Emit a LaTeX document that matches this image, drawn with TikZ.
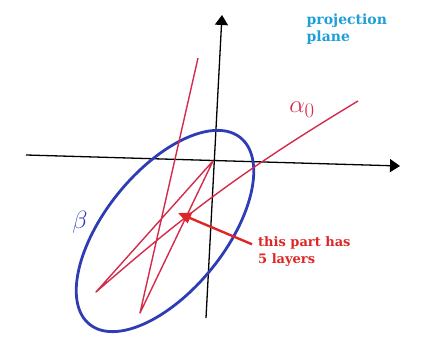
\documentclass[tikz,border=0pt]{standalone}
\usepackage{fontspec}
\usetikzlibrary{arrows.meta}
\newfontfamily\notefont{DejaVu Serif}
\definecolor{skyc}{HTML}{1E9FD8}
\definecolor{redc}{HTML}{DE2626}
\definecolor{linec}{HTML}{D42B4B}
\definecolor{ringc}{HTML}{2F3DB4}

\begin{document}
\begin{tikzpicture}[x=1pt,y=1pt,>={Triangle[length=10pt,width=13pt]},
  axis/.style={line width=1.3pt,->},
  strand/.style={linec,line width=1.4pt,line join=round},
  note/.style={align=left,inner sep=0pt,anchor=north west}]
  \useasboundingbox (0,0) rectangle (422,347);
  % axes
  \coordinate (xl) at (26,192); \coordinate (xr) at (400,181);
  \coordinate (yb) at (206,29);  \coordinate (yt) at (222,332);
  \draw[axis] (xl) -- (xr);
  \draw[axis] (yb) -- (yt);
  % the region beta
  \draw[ringc,line width=2.8pt,rotate around={51:(165,116)}] (165,116) ellipse [x radius=120pt,y radius=60pt];
  \node[text=ringc,font=\fontsize{31}{31}\selectfont] (beta) at (80,125) {$\beta$};
  % the curve alpha_0, folded
  \coordinate (a0) at (358,246); \coordinate (a1) at (96,55);
  \coordinate (a2) at (213,186); \coordinate (a3) at (140,34);
  \coordinate (a4) at (198,289);
  \draw[strand] (a0) to[bend right=5] (a1) -- (a2) -- (a3) -- (a4);
  \node[text=linec,font=\fontsize{31}{31}\selectfont] (alpha) at (302,237) {$\alpha_0$};
  % labels
  \node[note,text=skyc,font=\notefont\bfseries\fontsize{14}{16.7}\selectfont] (plane) at (306.5,333) {projection\\plane};
  \node[note,text=redc,font=\notefont\bfseries\fontsize{13}{17.4}\selectfont] (layers) at (258,111) {this part has\\5 layers};
  \coordinate (hot) at (178,134);
  \draw[redc,line width=2.4pt,-{Triangle[length=13pt,width=11pt]}] ([shift={(-6pt,7pt)}]layers.west) -- (hot);
\end{tikzpicture}
\end{document}
